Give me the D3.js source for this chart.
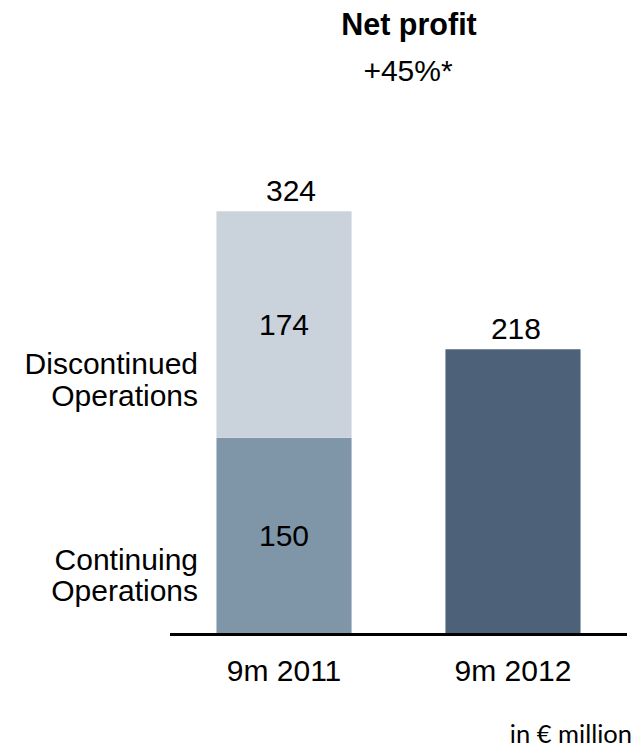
<!DOCTYPE html>
<html>
<head>
<meta charset="utf-8">
<script src="https://cdn.jsdelivr.net/npm/d3@7"></script>
<style>
  html, body { margin: 0; padding: 0; background: #fff; }
  svg { display: block; }
</style>
</head>
<body>
<div id="chart"></div>
<script>
// Data
const categories = ["9m 2011", "9m 2012"];
const seriesKeys = ["continuing", "discontinued", "group"];
const seriesNames = [["Continuing", "Operations"], ["Discontinued", "Operations"], null];
const continuing = [150, 0];
const discontinued = [174, 0];
const group = [0, 218];
const title = "Net profit";
const subtitle = "+45%*";
const unitNote = "in \u20ac million";

// Constants
const w = 638;
const h = 753;
const font = "'Liberation Sans', Arial, sans-serif";
const fs = "30px";
const colors = { continuing: "#7f96a9", discontinued: "#cad2db", group: "#4d6278" };

const rows = categories.map((c, i) => ({
  cat: c,
  continuing: continuing[i],
  discontinued: discontinued[i],
  group: group[i]
}));

const stacked = d3.stack().keys(seriesKeys)(rows);

const xScale = d3.scaleBand().domain(categories).range([170, 627])
  .paddingInner(0.41).paddingOuter(0.203);
const yScale = d3.scaleLinear().domain([0, 325]).range([633, 210]);

const svg = d3.select("#chart").append("svg")
  .attr("width", w)
  .attr("height", h)
  .style("font-family", font);

// Title
svg.append("text")
  .attr("x", 409).attr("y", 35)
  .attr("text-anchor", "middle")
  .style("font-size", "30.5px").style("font-weight", "bold")
  .text(title);

svg.append("text")
  .attr("x", 408).attr("y", 81)
  .attr("text-anchor", "middle")
  .style("font-size", fs)
  .text(subtitle);

// Bars
stacked.forEach(layer => {
  svg.append("g")
    .selectAll("rect")
    .data(layer.filter(d => d[1] > d[0]))
    .join("rect")
    .attr("x", d => xScale(d.data.cat))
    .attr("width", xScale.bandwidth())
    .attr("y", d => yScale(d[1]))
    .attr("height", d => yScale(d[0]) - yScale(d[1]))
    .attr("fill", colors[layer.key]);
});

// Segment labels (only for bars with more than one segment) and totals
rows.forEach((r, i) => {
  const segs = stacked.map(l => l[i]).filter(d => d[1] > d[0]);
  const cx = xScale(r.cat) + xScale.bandwidth() / 2;
  if (segs.length > 1) {
    segs.forEach(d => {
      svg.append("text")
        .attr("x", cx)
        .attr("y", (yScale(d[0]) + yScale(d[1])) / 2)
        .attr("dy", "0.36em")
        .attr("text-anchor", "middle")
        .style("font-size", fs)
        .text(d[1] - d[0]);
    });
  }
  const total = d3.sum(seriesKeys, k => r[k]);
  svg.append("text")
    .attr("x", cx + (segs.length > 1 ? 7 : 3))
    .attr("y", yScale(total) - 10)
    .attr("text-anchor", "middle")
    .style("font-size", fs)
    .text(total);
});

// Series labels left of the first bar
stacked.forEach((layer, si) => {
  const names = seriesNames[si];
  if (!names) return;
  const d = layer[0];
  const bottom = yScale(d[0]);
  const t = svg.append("text")
    .attr("text-anchor", "end")
    .style("font-size", fs);
  names.forEach((line, li) => {
    t.append("tspan")
      .attr("x", 198)
      .attr("y", bottom - 32 - (names.length - 1 - li) * 31.5)
      .text(line);
  });
});

// Baseline
svg.append("line")
  .attr("x1", xScale.range()[0])
  .attr("x2", xScale.range()[1])
  .attr("y1", yScale(0) + 1.5)
  .attr("y2", yScale(0) + 1.5)
  .attr("stroke", "#000")
  .attr("stroke-width", 3);

// Category axis labels
const xAxis = svg.append("g")
  .attr("transform", `translate(0, ${yScale(0) + 48})`)
  .call(d3.axisBottom(xScale).tickSize(0).tickPadding(0));
xAxis.select(".domain").remove();
xAxis.selectAll(".tick text")
  .attr("y", 0).attr("dy", 0)
  .attr("fill", "#000")
  .style("font-family", font)
  .style("font-size", fs);

// Unit note
svg.append("text")
  .attr("x", 632).attr("y", 743)
  .attr("text-anchor", "end")
  .style("font-family", "Lato, 'Open Sans', sans-serif")
  .style("font-size", "25.5px")
  .text(unitNote);
</script>
</body>
</html>
